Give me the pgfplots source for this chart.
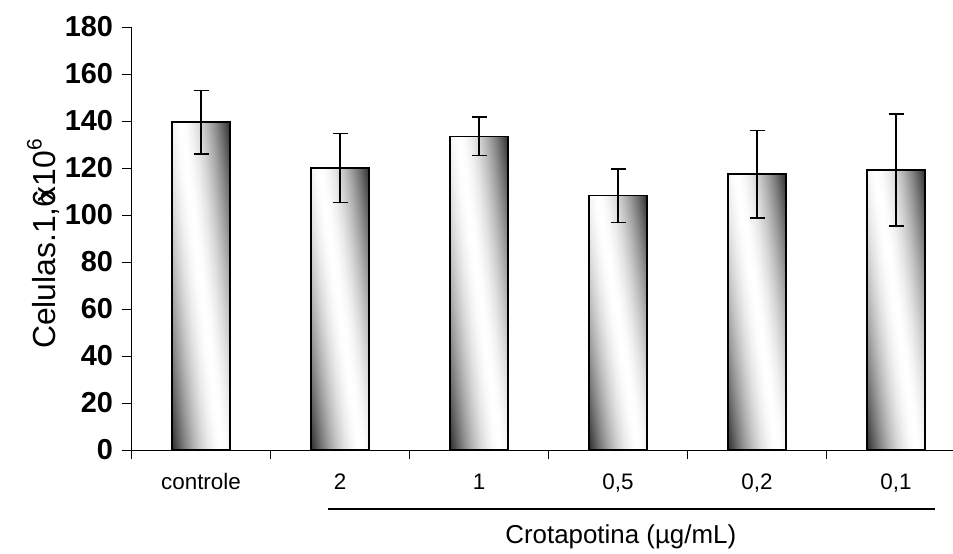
\documentclass[border=0pt]{standalone}
\usepackage{fontspec}
\setmainfont{Liberation Sans}
\usepackage{pgfplots}
\pgfplotsset{compat=1.18}
\pgfdeclarefunctionalshading{barshade}{\pgfpoint{0bp}{0bp}}{\pgfpoint{100bp}{100bp}}{}{
  25 sub 50 div 0.7 mul exch 25 sub 50 div add 0.85 sub
  abs 0.95 div 1.7 exp 1 exch sub
  dup 0 lt {pop 0} if
  dup dup
}
\pgfplotsset{
  mybar/.style={ybar, bar width=58bp, bar shift=0pt, draw=black, line width=1.4bp,
    shading=barshade,
    error bars/.cd, y dir=both, y explicit,
    error bar style={line width=1.4bp, black},
    error mark options={rotate=90, line width=1.4bp, black, mark size=7.5bp}},
}
\begin{document}
\begin{tikzpicture}
\begin{axis}[
  at={(0,0)}, anchor=south west,
  scale only axis, width=821.5bp, height=423bp,
  xmin=-0.5, xmax=5.41, ymin=0, ymax=180,
  clip=false,
  axis lines=left, axis line style={-, line width=0.8bp},
  ytick={0,20,...,180},
  xtick={0,...,5}, xticklabels={controle,2,1,{0,5},{0,2},{0,1}},
  minor xtick={-0.5,0.5,...,4.5},
  major x tick style={draw=none},
  tick align=outside,
  major tick length=9bp, minor tick length=9bp,
  tick style={line width=0.8bp, black},
  /pgf/number format/assume math mode=true,
  yticklabel style={font=\fontsize{29}{29}\selectfont\bfseries, xshift=-6bp},
  xticklabel style={font=\fontsize{22.5}{22.5}\selectfont, yshift=-20bp,
    anchor=north, text height=0.73em, text depth=0.2em},
]
\addplot[mybar] coordinates {(0,139.5) +- (0,13.6)};
\addplot[mybar] coordinates {(1,120.0) +- (0,14.6)};
\addplot[mybar] coordinates {(2,133.5) +- (0,8.2)};
\addplot[mybar] coordinates {(3,108.2) +- (0,11.4)};
\addplot[mybar] coordinates {(4,117.4) +- (0,18.6)};
\addplot[mybar] coordinates {(5,119.1) +- (0,23.8)};
\draw[line width=1.5bp] (axis cs:0.914,-25.2) -- (axis cs:5.28,-25.2);
\node[font=\fontsize{26}{26}\selectfont] at (axis cs:3.02,-37) {Crotapotina (µg/mL)};
\end{axis}
\node[rotate=90, font=\fontsize{32}{32}\selectfont] at (-88bp,206bp) {Celulas.1,6\kern-0.4em x10\raisebox{0.45em}{\fontsize{21}{21}\selectfont 6}};
\pgfresetboundingbox
\path[use as bounding box] (-131.5bp,-104bp) rectangle (821.5bp,450bp);
\end{tikzpicture}
\end{document}
